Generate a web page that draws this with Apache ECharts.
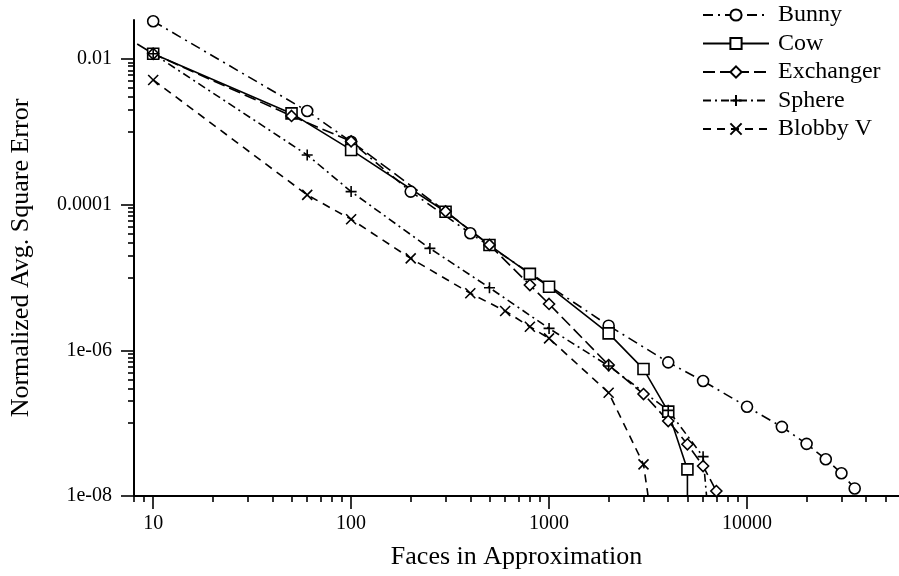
<!DOCTYPE html>
<html>
<head>
<meta charset="utf-8">
<script src="https://cdn.jsdelivr.net/npm/echarts@6/dist/echarts.min.js"></script>
<style>
html, body { margin: 0; padding: 0; background: #fff; }
#main { width: 899px; height: 576px; }
</style>
</head>
<body>
<div id="main"></div>
<script>
// faces / error pairs
var bunnyFaces = [10, 60, 100, 200, 400, 2000, 4000, 6000, 10000, 15000, 20000, 25000, 30000, 35000];
var bunnyError = [0.033, 0.00193, 0.00073, 1.51e-4, 4.05e-5, 2.18e-6, 6.84e-7, 3.79e-7, 1.68e-7, 8.9e-8, 5.2e-8, 3.2e-8, 2.05e-8, 1.27e-8];

var cowFaces = [10, 50, 100, 300, 500, 800, 1000, 2000, 3000, 4000, 5000, 5000];
var cowError = [0.0118, 0.00179, 5.64e-4, 8.0e-5, 2.79e-5, 1.12e-5, 7.48e-6, 1.71e-6, 5.53e-7, 1.44e-7, 2.32e-8, 1e-10];

var exchFaces = [5, 10, 50, 100, 300, 500, 800, 1000, 2000, 3000, 4000, 5000, 6000, 7000];
var exchError = [0.037, 0.0118, 0.00165, 7.4e-4, 8.1e-5, 2.8e-5, 7.88e-6, 4.33e-6, 6.28e-7, 2.51e-7, 1.07e-7, 5.13e-8, 2.58e-8, 1.17e-8];

var sphereFaces = [10, 60, 100, 250, 500, 1000, 2000, 4000, 6000, 7000];
var sphereError = [0.0118, 4.81e-4, 1.51e-4, 2.51e-5, 7.24e-6, 2.0e-6, 6.1e-7, 1.5e-7, 3.47e-8, 3e-10];

var blobbyFaces = [10, 60, 100, 200, 400, 600, 800, 1000, 2000, 3000, 3500];
var blobbyError = [0.00515, 1.36e-4, 6.3e-5, 1.83e-5, 6.07e-6, 3.47e-6, 2.11e-6, 1.46e-6, 2.62e-7, 2.72e-8, 1.5e-9];

// ticks
var xMajor = [10, 100, 1000, 10000];
var xMinor = [8, 9, 20, 30, 40, 50, 60, 70, 80, 90, 200, 300, 400, 500, 600, 700, 800, 900,
              2000, 3000, 4000, 5000, 6000, 7000, 8000, 9000, 20000, 30000, 40000, 50000];
var yMajor = [1e-8, 1e-6, 1e-4, 1e-2];
var yMajorText = ['1e-08', '1e-06', '0.0001', '0.01'];
var yMinor = [1e-7, 2e-7, 3e-7, 4e-7, 5e-7, 6e-7, 7e-7, 8e-7, 9e-7,
              1e-5, 2e-5, 3e-5, 4e-5, 5e-5, 6e-5, 7e-5, 8e-5, 9e-5,
              1e-3, 2e-3, 3e-3, 4e-3, 5e-3, 6e-3, 7e-3, 8e-3, 9e-3];

var font = '"Liberation Serif", "Times New Roman", serif';

function pairs(xs, ys) {
    var out = [];
    for (var i = 0; i < xs.length; i++) out.push([xs[i], ys[i]]);
    return out;
}

function yLabel(v) {
    var best = 0;
    for (var i = 1; i < yMajor.length; i++) {
        if (Math.abs(Math.log10(yMajor[i]) - Math.log10(v)) < Math.abs(Math.log10(yMajor[best]) - Math.log10(v))) best = i;
    }
    return yMajorText[best];
}

var plusPath = 'path://M0,5L10,5M5,0L5,10';
var crossPath = 'path://M0,0L10,10M10,0L0,10';

function mkSeries(name, data, symbol, size, dash) {
    return {
        name: name,
        type: 'line',
        data: data,
        symbol: symbol,
        symbolSize: size,
        showAllSymbol: true,
        clip: true,
        lineStyle: { color: '#000', width: 1.6, type: dash },
        itemStyle: { color: '#fff', borderColor: '#000', borderWidth: 1.6 },
        emphasis: { disabled: true }
    };
}

var chart = echarts.init(document.getElementById('main'));

var option = {
    animation: false,
    backgroundColor: '#fff',
    textStyle: { fontFamily: font },
    grid: { left: 134, right: 0, top: 20, bottom: 80, containLabel: false, outerBoundsMode: 'none' },
    legend: {
        orient: 'vertical',
        left: 697,
        top: -2,
        itemWidth: 66,
        itemHeight: 14,
        itemGap: 4.5,
        data: ['Bunny', 'Cow', 'Exchanger', 'Sphere', 'Blobby V'],
        textStyle: { fontFamily: font, fontSize: 24, color: '#000', lineHeight: 24, padding: [0, 0, 0, 4] }
    },
    xAxis: [{
        type: 'log',
        min: 8,
        max: 58600,
        position: 'bottom',
        name: 'Faces in Approximation',
        nameLocation: 'middle',
        nameGap: 48,
        nameTextStyle: { fontFamily: font, fontSize: 26, color: '#000' },
        axisLine: { lineStyle: { color: '#000', width: 2 } },
        axisTick: { customValues: xMajor, length: 13, lineStyle: { color: '#000', width: 1.6 } },
        axisLabel: { customValues: xMajor, margin: 18, fontFamily: font, fontSize: 20, color: '#000',
                     formatter: function (v) { return String(Math.round(v)); } },
        splitLine: { show: false }
    }, {
        type: 'log',
        min: 8,
        max: 58600,
        position: 'bottom',
        offset: 0,
        axisLine: { show: false },
        axisTick: { customValues: xMinor, length: 6, lineStyle: { color: '#000', width: 1.6 } },
        axisLabel: { show: false },
        splitLine: { show: false }
    }],
    yAxis: [{
        type: 'log',
        min: 1e-8,
        max: 0.0343,
        position: 'left',
        name: 'Normalized Avg. Square Error',
        nameLocation: 'middle',
        nameGap: 100,
        nameTextStyle: { fontFamily: font, fontSize: 26, color: '#000' },
        axisLine: { show: true, lineStyle: { color: '#000', width: 2 } },
        axisTick: { show: true, customValues: yMajor, length: 13, lineStyle: { color: '#000', width: 1.6 } },
        axisLabel: { customValues: yMajor, margin: 22, fontFamily: font, fontSize: 20, color: '#000', formatter: yLabel },
        splitLine: { show: false }
    }, {
        type: 'log',
        min: 1e-8,
        max: 0.0343,
        position: 'left',
        offset: 0,
        axisLine: { show: false },
        axisTick: { show: true, customValues: yMinor, length: 6, lineStyle: { color: '#000', width: 1.6 } },
        axisLabel: { show: false },
        splitLine: { show: false }
    }],
    series: [
        mkSeries('Bunny', pairs(bunnyFaces, bunnyError), 'circle', 11, [10, 5, 2, 5]),
        mkSeries('Cow', pairs(cowFaces, cowError), 'rect', 11, 'solid'),
        mkSeries('Exchanger', pairs(exchFaces, exchError), 'diamond', 11, [12, 5]),
        mkSeries('Sphere', pairs(sphereFaces, sphereError), plusPath, 11, [8, 4, 2, 4]),
        mkSeries('Blobby V', pairs(blobbyFaces, blobbyError), crossPath, 10, [8, 6])
    ]
};

chart.setOption(option);
</script>
</body>
</html>
